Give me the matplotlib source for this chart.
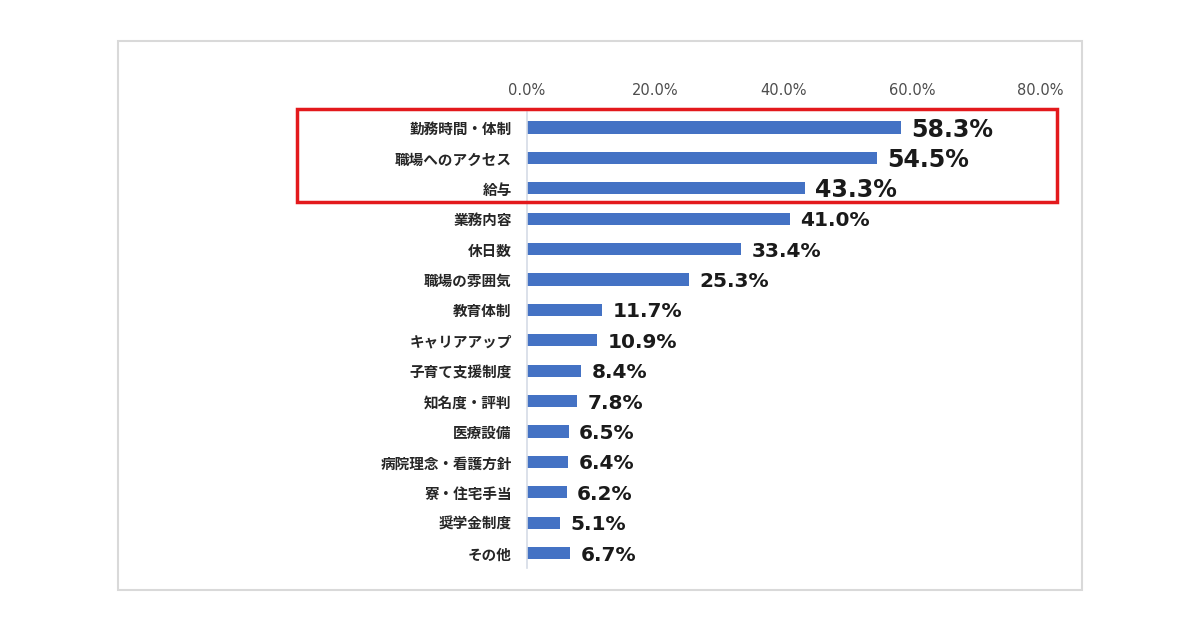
import matplotlib.pyplot as plt
from matplotlib.patches import Rectangle

# data (percent)
categories = ['勤務時間・体制', '職場へのアクセス', '給与', '業務内容', '休日数',
              '職場の雰囲気', '教育体制', 'キャリアアップ', '子育て支援制度',
              '知名度・評判', '医療設備', '病院理念・看護方針', '寮・住宅手当',
              '奨学金制度', 'その他']
values = [58.3, 54.5, 43.3, 41.0, 33.4, 25.3, 11.7, 10.9, 8.4, 7.8,
          6.5, 6.4, 6.2, 5.1, 6.7]
x_ticks = [0, 20, 40, 60, 80]
n_highlight = 3

plt.rcParams['font.family'] = ['Noto Sans CJK JP', 'DejaVu Sans']

fig = plt.figure(figsize=(12, 6.31), dpi=100)
ax = fig.add_axes([0.4392, 0.0995, 0.8667 - 0.4392, 0.822 - 0.0995])

pos = list(range(len(categories)))
ax.barh(pos, values, height=0.4, color='#4472C4')
ax.set_ylim(len(categories) - 0.5, -0.5)
ax.set_xlim(0, 80)

ax.set_yticks(pos)
ax.set_yticklabels(categories, fontsize=10.5, fontweight='bold', color='#262626')
ax.set_xticks(x_ticks)
ax.set_xticklabels([f'{t:.1f}%' for t in x_ticks], fontsize=10.5,
                   color='#4d4d4d', family='DejaVu Sans')
ax.xaxis.tick_top()
ax.tick_params(axis='both', length=0)
ax.tick_params(axis='x', pad=10)
ax.tick_params(axis='y', pad=11)

for s in ['top', 'right', 'bottom']:
    ax.spines[s].set_visible(False)
ax.spines['left'].set_color('#d6dce6')
ax.spines['left'].set_linewidth(1.2)

for i, v in enumerate(values):
    size = 17 if i < n_highlight else 14.5
    ax.annotate(f'{v:.1f}%', xy=(v, i), xytext=(7.5, -1.5), textcoords='offset points',
                ha='left', va='center', fontsize=size, fontweight='bold',
                family='DejaVu Sans', color='#1a1a1a')

# outer frame and highlight box
fig.patches.append(Rectangle((0.0983, 0.065), 0.8033, 0.870, transform=fig.transFigure,
                             fill=False, edgecolor='#d9d9d9', linewidth=1.5))
fig.patches.append(Rectangle((0.2475, 0.6799), 0.6333, 0.1474, transform=fig.transFigure,
                             fill=False, edgecolor='#e3191c', linewidth=2.5))

fig.savefig('out.png', dpi=100, facecolor='white')
